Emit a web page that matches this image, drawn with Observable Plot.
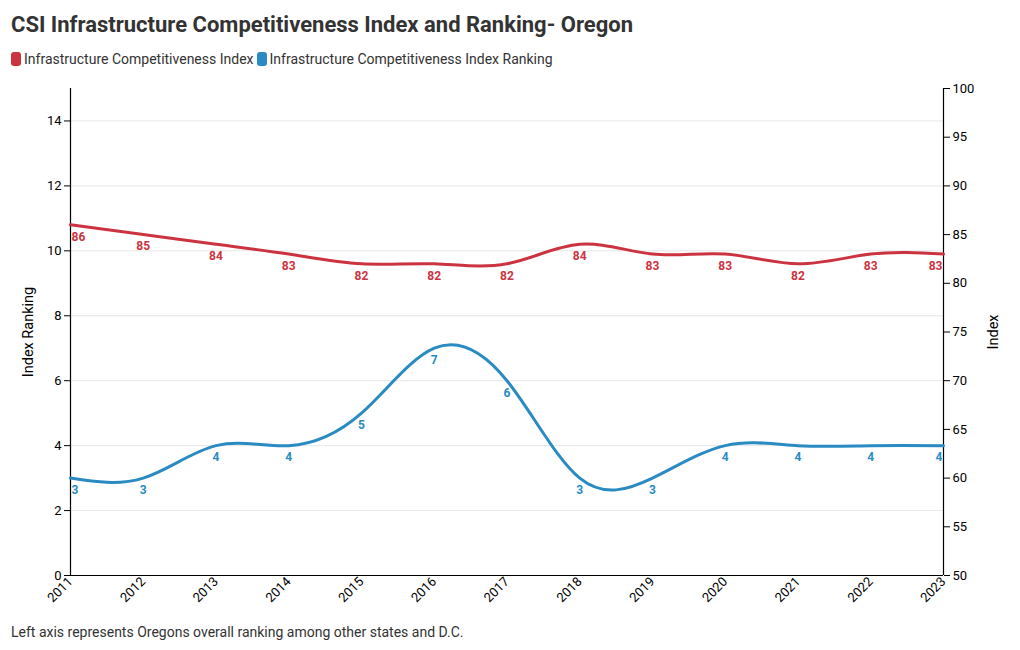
<!DOCTYPE html>
<html><head><meta charset="utf-8">
<script src="https://cdn.jsdelivr.net/npm/d3@7"></script>
<script src="https://cdn.jsdelivr.net/npm/@observablehq/plot@0.6"></script>
<style>
body{margin:0;background:#fff;font-family:Roboto,sans-serif;}
#title{position:absolute;left:11px;top:12px;font-size:22px;font-weight:700;color:#333;}
#legend{position:absolute;left:11px;top:51px;font-size:14px;color:#333;display:flex;align-items:center;}
.sw{display:inline-block;width:10px;height:14px;border-radius:3px;margin-right:3px;}
#chart{position:absolute;left:0;top:78px;}
#caption{position:absolute;left:11px;top:624px;font-size:14px;color:#333;}
</style></head><body>
<div id="title">CSI Infrastructure Competitiveness Index and Ranking- Oregon</div>
<div id="legend"><span class="sw" style="background:#cc3340"></span>Infrastructure Competitiveness Index<span class="sw" style="background:#2a8bc2;margin-left:3px"></span>Infrastructure Competitiveness Index Ranking</div>
<div id="chart"></div>
<div id="caption">Left axis represents Oregons overall ranking among other states and D.C.</div>
<script>
const years = [2011,2012,2013,2014,2015,2016,2017,2018,2019,2020,2021,2022,2023];
const indexValues = [86,85,84,83,82,82,82,84,83,83,82,83,83];
const rankValues = [3,3,4,4,5,7,6,3,3,4,4,4,4];
const leftTicks = [0,2,4,6,8,10,12,14];
const rightTicks = [50,55,60,65,70,75,80,85,90,95,100];
const red = "#cc3340", blue = "#2a8bc2";
// map right-axis (index) onto left scale domain [0,15]
const toLeft = v => (v - 50) / 50 * 15;
const idx = years.map((y,i)=>({year:y, v:indexValues[i], y:toLeft(indexValues[i])}));
const rnk = years.map((y,i)=>({year:y, v:rankValues[i], y:rankValues[i]}));
const anchorOf = d => d.year === years[0] ? "start" : d.year === years[years.length-1] ? "end" : "middle";

const chart = Plot.plot({
  width: 1020, height: 542,
  marginLeft: 70, marginRight: 77, marginTop: 10, marginBottom: 45,
  style: {fontFamily: "Roboto, sans-serif", fontSize: "12px", color: "#000", background: "transparent"},
  x: {domain: [2011, 2023], axis: null},
  y: {domain: [0, 15], axis: null},
  marks: [
    Plot.gridY(leftTicks, {stroke: "#e6e6e6", strokeOpacity: 1}),
    Plot.axisY(leftTicks, {anchor: "left", tickSize: 6, tickPadding: 3, fontSize: 13, label: null}),
    Plot.axisY(rightTicks.map(toLeft), {anchor: "right", tickSize: 6, tickPadding: 3, fontSize: 13, label: null,
      tickFormat: d => String(Math.round(d / 15 * 50 + 50))}),
    Plot.axisX(years, {anchor: "bottom", tickRotate: -45, tickSize: 0, tickPadding: 4, fontSize: 13, label: null, tickFormat: d => String(d)}),
    Plot.ruleX([2011], {stroke: "#000", strokeWidth: 1.2}),
    Plot.ruleX([2023], {stroke: "#000", strokeWidth: 1.2}),
    Plot.ruleY([0], {stroke: "#000", strokeWidth: 1.2}),
    Plot.line(idx, {x: "year", y: "y", stroke: red, strokeWidth: 3, curve: "natural"}),
    Plot.line(rnk, {x: "year", y: "y", stroke: blue, strokeWidth: 3, curve: "natural"}),
    Plot.text(idx.filter(d=>anchorOf(d)==="middle"), {x: "year", y: "y", text: d => String(d.v), dy: 12, fill: red, fontWeight: "bold", fontSize: 12}),
    Plot.text(idx.filter(d=>anchorOf(d)==="start"), {x: "year", y: "y", text: d => String(d.v), dy: 12, dx: 1, textAnchor: "start", fill: red, fontWeight: "bold", fontSize: 12}),
    Plot.text(idx.filter(d=>anchorOf(d)==="end"), {x: "year", y: "y", text: d => String(d.v), dy: 12, dx: -1, textAnchor: "end", fill: red, fontWeight: "bold", fontSize: 12}),
    Plot.text(rnk.filter(d=>anchorOf(d)==="middle"), {x: "year", y: "y", text: d => String(d.v), dy: 12, fill: blue, fontWeight: "bold", fontSize: 12}),
    Plot.text(rnk.filter(d=>anchorOf(d)==="start"), {x: "year", y: "y", text: d => String(d.v), dy: 12, dx: 1, textAnchor: "start", fill: blue, fontWeight: "bold", fontSize: 12}),
    Plot.text(rnk.filter(d=>anchorOf(d)==="end"), {x: "year", y: "y", text: d => String(d.v), dy: 12, dx: -1, textAnchor: "end", fill: blue, fontWeight: "bold", fontSize: 12}),
    Plot.text(["Index Ranking"], {frameAnchor: "left", dx: -42, rotate: -90, textAnchor: "middle", fontSize: 14.5, fill: "#000"}),
    Plot.text(["Index"], {frameAnchor: "right", dx: 50, rotate: -90, textAnchor: "middle", fontSize: 14.5, fill: "#000"})
  ]
});
document.getElementById("chart").appendChild(chart);
</script>
</body></html>
